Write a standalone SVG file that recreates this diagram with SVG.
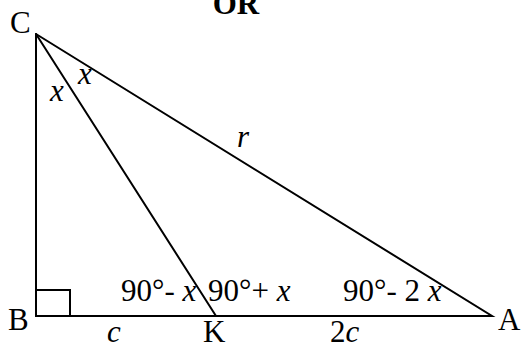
<svg xmlns="http://www.w3.org/2000/svg" width="523" height="350" viewBox="0 0 523 350">
<style>
.ln{stroke:#000;stroke-width:2;fill:none;stroke-linecap:round}
.t{font-family:"Liberation Serif","Times New Roman",serif;font-size:31px;fill:#000}
.i{font-family:"Liberation Serif","DejaVu Serif",serif;font-style:italic}
</style>
<rect width="523" height="350" fill="#fff"/>
<text class="t" x="236" y="14" text-anchor="middle" font-weight="bold" font-size="24px">OR</text>
<g id="edges">
<polyline class="ln" points="36,34 36,316 492,316 36,34"/>
<line class="ln" x1="36" y1="34" x2="216" y2="316"/>
<rect class="ln" x="36" y="290" width="34" height="26"/>
</g>
<g id="C"><text class="t" x="10" y="33">C</text></g>
<g id="B"><text class="t" x="8" y="330">B</text></g>
<g id="A"><text class="t" x="498" y="330">A</text></g>
<g id="K"><text class="t" x="203" y="342">K</text></g>
<g id="labels">
<text class="t i" x="50" y="101">x</text>
<text class="t i" x="78" y="84">x</text>
<text class="t i" x="237" y="147">r</text>
<text class="t" x="121" y="301">90°- <tspan class="i">x</tspan></text>
<text class="t" x="208" y="301">90°+ <tspan class="i">x</tspan></text>
<text class="t" x="343" y="301">90°- 2 <tspan class="i">x</tspan></text>
<text class="t i" x="107" y="342">c</text>
<text class="t" x="330" y="342">2<tspan class="i">c</tspan></text>
</g>
</svg>
